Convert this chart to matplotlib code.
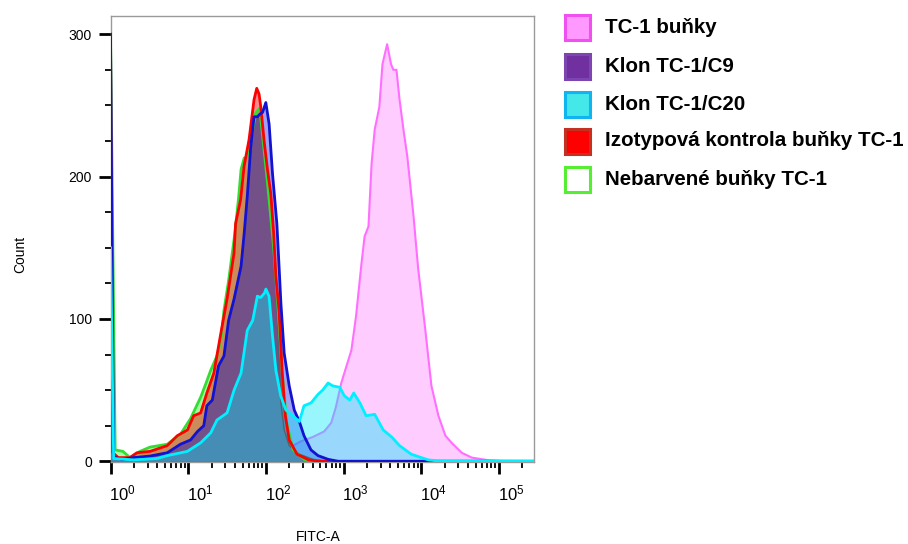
import numpy as np
import matplotlib
matplotlib.use('Agg')
import matplotlib.pyplot as plt
from matplotlib.patches import Rectangle
from matplotlib.ticker import LogLocator, MultipleLocator, NullFormatter
from matplotlib.transforms import ScaledTranslation

plt.rcParams['font.family'] = ['Liberation Sans', 'DejaVu Sans']
plt.rcParams['mathtext.fontset'] = 'custom'
plt.rcParams['mathtext.rm'] = 'Liberation Sans'
plt.rcParams['mathtext.it'] = 'Liberation Sans:italic'
plt.rcParams['mathtext.bf'] = 'Liberation Sans:bold'

# FITC-A histograms: x in log10 decades, y in event counts
tc1_logx = [0, 1.6, 1.9, 2.1, 2.25, 2.45, 2.6, 2.75, 2.84, 2.90, 2.97, 3.06, 3.10, 3.16, 3.23,
            3.27, 3.32, 3.36, 3.40, 3.46, 3.50, 3.53, 3.56, 3.61, 3.64, 3.68, 3.72, 3.77,
            3.82, 3.90, 3.96, 4.05, 4.13, 4.22, 4.31, 4.39, 4.52, 4.65, 4.87, 5.1, 5.45]
tc1_count = [0, 0, 2, 5, 8, 14, 17, 21, 27, 38, 55, 71, 78, 102, 139,
             158, 165, 209, 233, 249, 279, 286, 293, 279, 275, 275, 254, 233,
             214, 172, 135, 93, 53, 32, 18, 13, 6, 2.6, 0.7, 0, 0]

c20_logx = [0, 0.04, 0.3, 0.6, 0.73, 0.99, 1.16, 1.29, 1.37, 1.50, 1.59, 1.68, 1.76, 1.83,
            1.89, 1.93, 1.98, 2.0, 2.04, 2.085, 2.128, 2.19, 2.257, 2.344, 2.43, 2.49, 2.58,
            2.67, 2.73, 2.80, 2.86, 2.95, 3.01, 3.08, 3.13, 3.21, 3.29, 3.40, 3.51, 3.62,
            3.72, 3.87, 4.0, 4.09, 4.2, 5.45]
c20_count = [150, 2, 1, 2, 4, 7, 13, 20, 29, 34, 50, 62, 92, 99,
             116, 115, 118, 121, 116, 88, 64, 46, 36, 32, 28, 39, 41,
             47, 50, 55, 53, 52, 46, 43, 48, 41, 32, 33, 22, 17,
             11, 5, 2.6, 1, 0.3, 0]

blue_logx = [0, 0.04, 0.15, 0.3, 0.51, 0.73, 0.90, 1.03, 1.12, 1.20, 1.24, 1.31, 1.39, 1.46,
             1.52, 1.59, 1.68, 1.72, 1.76, 1.805, 1.847, 1.891, 1.925, 1.956, 1.999, 2.041,
             2.085, 2.141, 2.171, 2.193, 2.235, 2.30, 2.365, 2.43, 2.49, 2.58, 2.67, 2.80,
             2.93, 5.45]
blue_count = [300, 3, 1.4, 2.6, 3.7, 6, 12, 15, 21, 25, 39, 43, 67, 74,
              99, 114, 137, 160, 186, 221, 242, 242, 244, 245, 252, 237,
              202, 167, 135, 111, 76, 53, 36, 28, 18, 8, 4, 1.4,
              0, 0]

c9_logx = [0, 0.04, 0.15, 0.3, 0.51, 0.73, 0.90, 1.03, 1.12, 1.20, 1.24, 1.31, 1.39, 1.46,
           1.52, 1.59, 1.68, 1.72, 1.76, 1.805, 1.847, 1.89, 1.912, 1.945, 1.977, 2.041,
           2.085, 2.12, 2.165, 2.193, 2.235, 2.30, 2.43, 2.6, 2.8, 5.45]
c9_count = [300, 3, 1.4, 2.6, 3.7, 6, 12, 15, 21, 25, 39, 43, 67, 74,
            99, 114, 137, 160, 186, 218, 238, 240, 243, 232, 214, 179,
            156, 130, 76, 41, 22, 11, 5, 1.5, 0, 0]

iso_logx = [0, 0.03, 0.1, 0.25, 0.34, 0.51, 0.73, 0.86, 0.99, 1.07, 1.16, 1.24, 1.33, 1.42,
            1.50, 1.589, 1.61, 1.675, 1.718, 1.783, 1.847, 1.882, 1.912, 1.934, 1.977, 2.02,
            2.063, 2.10, 2.128, 2.17, 2.21, 2.25, 2.30, 2.40, 2.55, 2.7, 5.45]
iso_count = [300, 6, 2.6, 2.6, 6, 7, 11, 18, 22, 32, 34, 48, 62, 90,
             114, 146, 167, 184, 207, 226, 254, 262, 258, 249, 225, 205,
             188, 160, 130, 105, 62, 32, 15, 5, 1, 0, 0]

unst_logx = [0, 0.06, 0.16, 0.25, 0.38, 0.51, 0.73, 0.90, 1.03, 1.16, 1.23, 1.29, 1.37, 1.42,
             1.46, 1.50, 1.52, 1.60, 1.65, 1.68, 1.72, 1.76, 1.82, 1.87, 1.92, 1.97, 2.03,
             2.10, 2.16, 2.21, 2.27, 2.35, 2.5, 2.7, 5.45]
unst_count = [300, 8, 7, 2.6, 7, 10, 12, 19, 30, 45, 55, 64, 74, 85,
              106, 120, 127, 160, 186, 205, 213, 214, 230, 245, 248, 222, 190,
              150, 105, 62, 26, 8, 1, 0, 0]

legend_labels = ['TC-1 buňky', 'Klon TC-1/C9', 'Klon TC-1/C20',
                 'Izotypová kontrola buňky TC-1', 'Nebarvené buňky TC-1']
legend_faces = ['#ff99ff', '#7030a0', '#44e8e8', '#ff0000', '#ffffff']
legend_edges = ['#f050f0', '#7d45b0', '#10b4f0', '#c43022', '#55ee33']

fig = plt.figure(figsize=(9.08, 5.44), dpi=100)
ax = fig.add_axes([0.1217, 0.1507, 0.4664, 0.8204])


def fill(logx, count, color, alpha, z):
    x = 10 ** np.asarray(logx, dtype=float)
    ax.fill_between(x, count, 0, color=color, alpha=alpha, lw=0, zorder=z)


def line(logx, count, color, lw, z):
    x = 10 ** np.asarray(logx, dtype=float)
    ax.plot(x, count, color=color, lw=lw, zorder=z, solid_joinstyle='round')


# filled layers, bottom to top
fill(tc1_logx, tc1_count, '#ffccff', 1.0, 1)
line(tc1_logx, tc1_count, '#ff6eff', 1.5, 1.5)
fill(unst_logx, unst_count, '#00ff00', 0.36, 2)
fill(iso_logx, iso_count, '#ff0000', 0.45, 3)
fill(blue_logx, blue_count, '#2020e0', 0.42, 4)
fill(c9_logx, c9_count, '#745089', 1.0, 5)
fill(c20_logx, c20_count, '#00eaf8', 0.4, 6)

# outlines
line(c9_logx, c9_count, '#4d6470', 1.0, 7)
line(unst_logx, unst_count, '#33dd33', 2.0, 8)
line(iso_logx, iso_count, '#ff0000', 2.0, 9)
line(blue_logx, blue_count, '#1212d0', 2.0, 10)
line(c20_logx, c20_count, '#00f0ff', 2.0, 11)

ax.set_xscale('log')
ax.set_xlim(1, 10 ** 5.45)
ax.set_ylim(-0.5, 313)

ax.set_xticks([10.0 ** k for k in range(6)])
ax.set_xticklabels([r'$\mathregular{10^{%d}}$' % k for k in range(6)])
ax.xaxis.set_minor_locator(LogLocator(base=10, subs=range(2, 10), numticks=20))
ax.xaxis.set_minor_formatter(NullFormatter())
ax.set_yticks([0, 100, 200, 300])
ax.yaxis.set_minor_locator(MultipleLocator(25))

ax.tick_params(axis='both', which='major', length=8.5, width=2.0, color='black')
ax.tick_params(axis='both', which='minor', length=4.3, width=1.3, color='black')
ax.tick_params(axis='x', which='major', labelsize=12, pad=7)
ax.tick_params(axis='y', which='major', labelsize=10, pad=5)

# decade labels sit a little to the right of their ticks
shift = ScaledTranslation(12 / 100, 0, fig.dpi_scale_trans)
for lab in ax.get_xticklabels():
    lab.set_transform(lab.get_transform() + shift)

for sp in ax.spines.values():
    sp.set_color('#9a9a9a')
    sp.set_linewidth(1.0)

ax.set_xlabel('FITC-A', fontsize=10)
ax.set_ylabel('Count', fontsize=10)
ax.xaxis.set_label_coords(0.49, -0.153)
ax.yaxis.set_label_coords(-0.197, 0.464)

# legend drawn in figure pixel space
lax = fig.add_axes([0, 0, 1, 1])
lax.set_xlim(0, 908)
lax.set_ylim(544, 0)
lax.axis('off')
row_y = [27.5, 66, 104, 141, 179.5]
for cy, lab, fc, ec in zip(row_y, legend_labels, legend_faces, legend_edges):
    lax.add_patch(Rectangle((564.5, cy - 12.5), 25, 25, facecolor=fc, edgecolor=ec, lw=2.2))
    lax.text(605, cy, lab, fontsize=14.8, fontweight='bold', va='center', ha='left')

fig.savefig('out.png', dpi=100)
